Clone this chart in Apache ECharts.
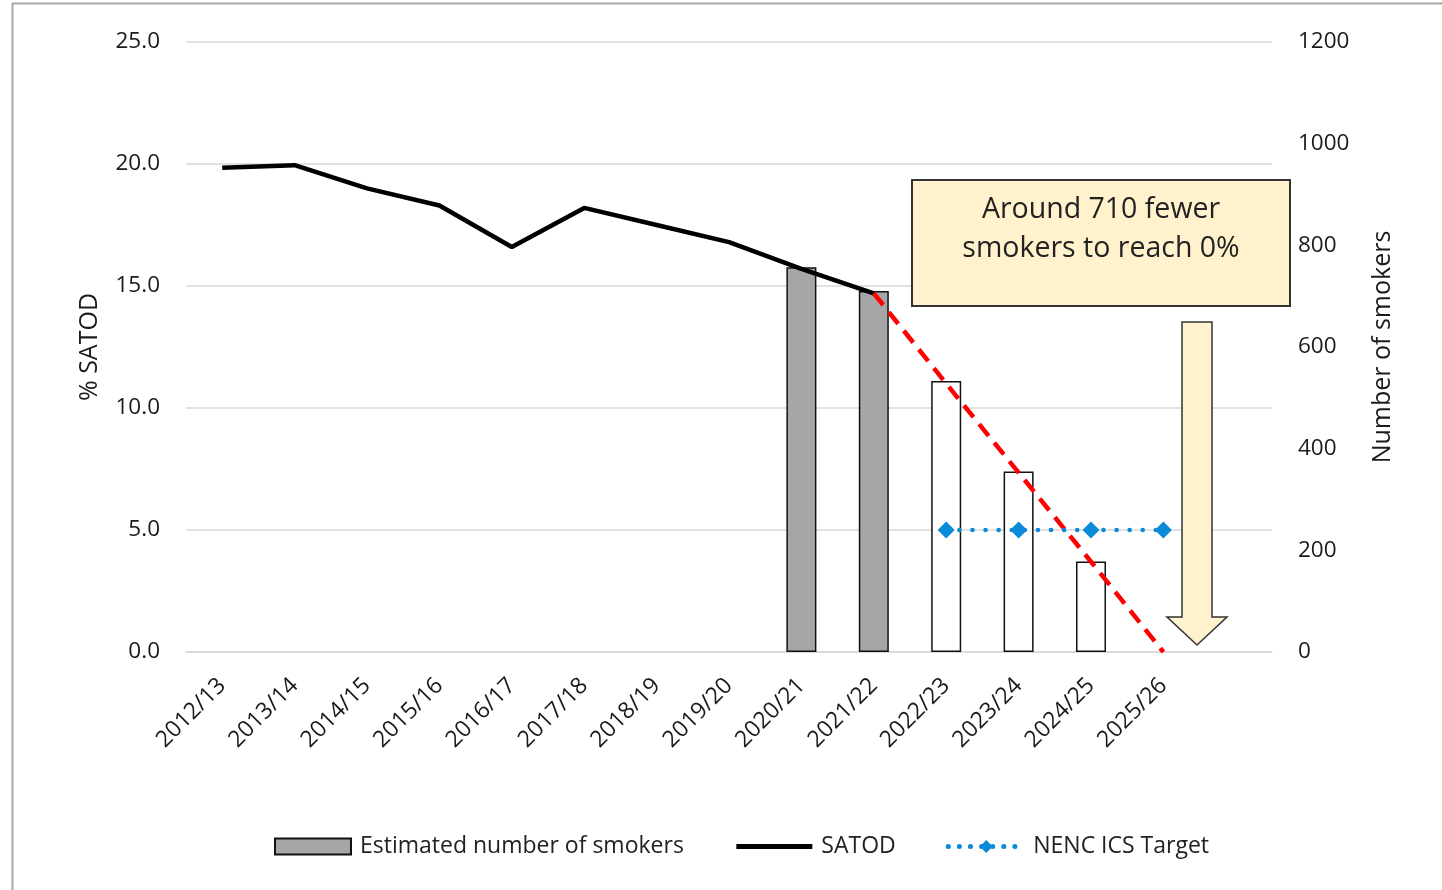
<!DOCTYPE html>
<html>
<head>
<meta charset="utf-8">
<script src="https://cdn.jsdelivr.net/npm/echarts@6/dist/echarts.min.js"></script>
<style>
html,body{margin:0;padding:0;background:#fff;}
#chart{width:1442px;height:890px;}
</style>
</head>
<body>
<div id="chart"></div>
<script>
const categories = ['2012/13','2013/14','2014/15','2015/16','2016/17','2017/18','2018/19','2019/20','2020/21','2021/22','2022/23','2023/24','2024/25','2025/26',''];
const smokers = [null,null,null,null,null,null,null,null,757,710,533,355,178,null,null];
const projectedFlags = [0,0,0,0,0,0,0,0,0,0,1,1,1,0,0];
const satod = [19.85,19.95,19.0,18.3,16.6,18.2,17.5,16.8,15.7,14.7,null,null,null,null,null];
const projection = [null,null,null,null,null,null,null,null,null,14.7,11.0,7.35,3.7,0,null];
const target = [null,null,null,null,null,null,null,null,null,null,5,5,5,5,null];
const leftTicks = {min:0,max:25,interval:5};
const rightTicks = {min:0,max:1200,interval:200};
const annotationText = 'Around 710 fewer\nsmokers to reach 0%';

const FONT = '"Open Sans", Lato, sans-serif';
const chart = echarts.init(document.getElementById('chart'));

const barData = smokers.map((v,i)=> v==null ? null : (projectedFlags[i] ? {value:v, itemStyle:{color:'#ffffff'}} : v));

chart.setOption({
  animation:false,
  backgroundColor:'#ffffff',
  textStyle:{fontFamily:FONT},
  grid:{left:186,right:170,top:42,bottom:238},
  legend:{
    data:[
      {name:'Estimated number of smokers',icon:'rect'},
      {name:'SATOD',itemStyle:{color:'rgba(0,0,0,0)',opacity:0},lineStyle:{width:5,color:'#000'}},
      {name:'NENC ICS Target',lineStyle:{width:5,color:'#0a8ad8',type:[0.1,11],cap:'round'}}
    ],
    bottom:27,left:269,itemGap:50,itemWidth:76,itemHeight:16,
    textStyle:{fontFamily:FONT,fontSize:23,color:'#222',padding:[0,0,0,4]}
  },
  xAxis:{
    type:'category',data:categories,boundaryGap:true,
    axisLine:{lineStyle:{color:'#d9d9d9',width:1.5}},
    axisTick:{show:false},
    axisLabel:{rotate:45,fontSize:23,color:'#1a1a1a',fontFamily:FONT,margin:30,interval:0}
  },
  yAxis:[{
    type:'value',min:leftTicks.min,max:leftTicks.max,interval:leftTicks.interval,
    name:'% SATOD',nameLocation:'middle',nameGap:84,nameRotate:90,
    nameTextStyle:{fontSize:25,color:'#1a1a1a',fontFamily:FONT},
    axisLabel:{fontSize:22.5,color:'#1a1a1a',margin:26,formatter:v=>v.toFixed(1),fontFamily:FONT},
    axisLine:{show:false},axisTick:{show:false},
    splitLine:{lineStyle:{color:'#d9d9d9',width:1.5}}
  },{
    type:'value',min:rightTicks.min,max:rightTicks.max,interval:rightTicks.interval,position:'right',
    name:'Number of smokers',nameLocation:'middle',nameGap:98,nameRotate:90,
    nameTextStyle:{fontSize:25,color:'#1a1a1a',fontFamily:FONT},
    axisLabel:{fontSize:22.5,color:'#1a1a1a',margin:26,fontFamily:FONT,formatter:v=>String(v)},
    axisLine:{show:false},axisTick:{show:false},splitLine:{show:false}
  }],
  series:[
    {name:'Estimated number of smokers',type:'bar',yAxisIndex:1,data:barData,barWidth:30,
      itemStyle:{color:'#a6a6a6',borderColor:'#111',borderWidth:1.5},z:1},
    {name:'SATOD',type:'line',data:satod,symbol:'none',lineStyle:{color:'#000',width:4.5},itemStyle:{color:'#000'},z:3},
    {name:'Projection',type:'line',data:projection,symbol:'none',lineStyle:{color:'#ff0000',width:4.5,type:[15,9]},z:4},
    {name:'NENC ICS Target',type:'line',data:target,symbol:'diamond',symbolSize:17,
      lineStyle:{color:'#0a8ad8',width:4.5,type:[0.1,13],cap:'round'},itemStyle:{color:'#0a8ad8'},z:5}
  ],
  graphic:[
    {type:'rect',shape:{x:12.5,y:3.5,width:1460,height:900},style:{fill:'none',stroke:'#a6a6a6',lineWidth:2},silent:true,z:-1},
    {type:'rect',shape:{x:912,y:180,width:378,height:126},style:{fill:'#fff2cc',stroke:'#333',lineWidth:2},z:10},
    {type:'text',x:1101,y:229,style:{text:annotationText,fontSize:28.5,fontFamily:FONT,fill:'#222',align:'center',verticalAlign:'middle',lineHeight:39},z:11},
    {type:'polygon',shape:{points:[[1182,322],[1212,322],[1212,617],[1227,617],[1197,645],[1167,617],[1182,617]]},
      style:{fill:'#fff2cc',stroke:'#333',lineWidth:1.5},z:10}
  ]
});
</script>
</body>
</html>
